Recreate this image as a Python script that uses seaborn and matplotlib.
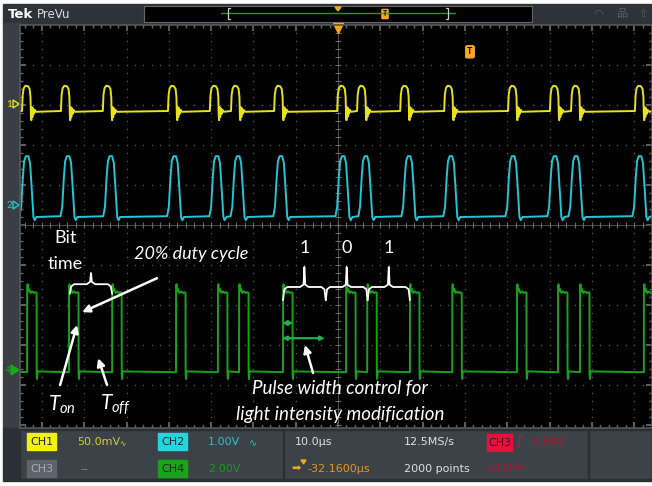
import numpy as np
import pandas as pd
import matplotlib.pyplot as plt
import seaborn as sns
from matplotlib.patches import Rectangle, Polygon, FancyBboxPatch

ch1_rise = [-74.7, -65.5, -55.6, -40.2, -30.3, -25.3, -15.1, -0.2, 4.5, 14.7,
            25.1, 40.2, 50.1, 55.1, 70.2]
ch2_peak = [-73.5, -63.8, -53.7, -38.6, -28.6, -23.6, -13.5, 1.2, 6.6, 16.8,
            26.7, 41.4, 51.3, 56.3, 71.4]
ch4_rise = [-73.5, -63.6, -53.4, -38.3, -28.4, -23.4, -13.0, 1.9, 6.9, 17.0,
            27.0, 42.3, 52.0, 57.2, 72.3]

# форма одиночного импульса каждого канала (смещение, уровень)
ch1_shape_t = [0.0, 0.15, 0.4, 0.8, 1.4, 1.8, 2.0, 2.1, 2.2, 2.3, 2.45, 2.6, 2.8, 3.0, 3.3]
ch1_shape_v = [2.85, 3.25, 3.42, 3.48, 3.47, 3.40, 3.2, 2.75, 2.62, 2.95, 2.7, 2.92, 2.78, 2.88, 2.83]
ch1_base = 2.85

ch2_shape_t = [-1.8, -1.4, -1.0, -0.7, -0.3, 0.3, 0.7, 1.1, 1.5, 1.8, 2.2]
ch2_shape_v = [0.22, 0.45, 1.2, 1.6, 1.72, 1.72, 1.55, 0.9, 0.2, 0.12, 0.2]
ch2_base = 0.22

ch4_shape_t = [0.0, 0.02, 0.12, 0.3, 0.5, 0.8, 1.2, 1.6, 2.0, 2.25, 2.27, 2.35, 2.5]
ch4_shape_v = [-3.68, -1.55, -1.48, -1.65, -1.6, -1.7, -1.66, -1.7, -1.68, -1.7, -3.72, -3.85, -3.66]
ch4_base = -3.67

# разметка битов "1 0 1" и bit time
bit_labels = ['1', '0', '1']
bit_edges = [-13.0, -2.9, 7.0, 17.0]
bit_time_edges = [-63.4, -53.4]

T0, T1 = -75.18, 74.23
Y0, Y1 = -5.075, 5.0


def build_trace(starts, shape_t, shape_v, base):
    t = [T0]
    v = [base]
    for s in starts:
        for dt, lv in zip(shape_t, shape_v):
            t.append(s + dt)
            v.append(lv)
    t.append(T1)
    v.append(base)
    return pd.DataFrame({'t': t, 'v': v})


sns.set_theme(style="dark")
plt.rcParams['font.family'] = ['Lato', 'DejaVu Sans']
plt.rcParams['mathtext.fontset'] = 'custom'
plt.rcParams['mathtext.it'] = 'Lato:italic'
plt.rcParams['mathtext.rm'] = 'Lato:italic'

fig = plt.figure(figsize=(6.52, 4.86), dpi=100, facecolor='white')

# ---- рамка интерфейса осциллографа (пиксельные координаты)
ui = fig.add_axes([0, 0, 1, 1])
ui.set_xlim(0, 652)
ui.set_ylim(486, 0)
ui.axis('off')
ui.add_patch(Rectangle((3, 4), 649, 20, color='#2e3338'))
ui.add_patch(Rectangle((3, 23), 18, 406, color='#3a3f45'))
ui.add_patch(Rectangle((3, 428), 649, 53, color='#2b3035'))
for x0, w in [(20, 263), (284, 304), (589, 63)]:
    ui.add_patch(Rectangle((x0, 430), w, 49, facecolor='#3b4248', edgecolor='#2a2f34', lw=1))

narrow = ['Liberation Sans Narrow', 'DejaVu Sans']
ui.text(8, 14, 'Tek', color='white', fontsize=9.5, fontweight='bold', va='center', family=narrow)
ui.text(37, 14, 'PreVu', color='#dddddd', fontsize=8.5, va='center', family=narrow)
ui.add_patch(Rectangle((144, 6), 388, 16, facecolor='black', edgecolor='#666666', lw=0.8))
ui.plot([221, 455], [13.5, 13.5], color='#1f9a3a', lw=1)
ui.plot([230, 228, 228, 230], [8, 8, 19, 19], color='#cccccc', lw=0.9)
ui.plot([446, 448, 448, 446], [8, 8, 19, 19], color='#cccccc', lw=0.9)
ui.add_patch(Polygon([[335, 7], [341, 7], [338, 11]], color='#f5a623'))
ui.add_patch(FancyBboxPatch((382.5, 10), 5, 8, boxstyle='round,pad=0.6', color='#f5a623'))
ui.text(385, 14, 'T', color='black', fontsize=5, ha='center', va='center', fontweight='bold')
for x, s in [(598, '◠'), (622, '品'), (643, '⇧')]:
    ui.text(x, 14, s, color='#5a6066', fontsize=8, ha='center', va='center',
            family=['DejaVu Sans', 'Noto Sans CJK SC'])

# маркеры каналов слева
ui.text(9, 104, '1', color='#e6e61e', fontsize=7, ha='center', va='center')
ui.add_patch(Polygon([[13, 100], [13, 108], [19, 104]], facecolor='none', edgecolor='#e6e61e', lw=1))
ui.text(9, 205, '2', color='#1ec8d2', fontsize=7, ha='center', va='center')
ui.add_patch(Polygon([[13, 201], [13, 209], [19, 205]], facecolor='none', edgecolor='#1ec8d2', lw=1))
ui.text(8, 370, '4', color='#1aa81a', fontsize=7, ha='center', va='center')
ui.add_patch(Polygon([[11, 365], [11, 375], [19, 370]], color='#1aa81a'))

# строка состояния
badges = [(27, 433, 'CH1', '#f2f20c'), (158, 433, 'CH2', '#22d6df'),
          (27, 460, 'CH3', '#5d646b'), (158, 460, 'CH4', '#19a319'),
          (487, 434, 'CH3', '#e6123d')]
for bx, by, lab, col in badges:
    ui.add_patch(Rectangle((bx, by), 29 if bx != 487 else 25, 17, color=col))
    ui.text(bx + (14.5 if bx != 487 else 12.5), by + 8.5, lab,
            color='#222222' if lab != 'CH3' or bx == 487 else '#aaaaaa',
            fontsize=8, ha='center', va='center', family=narrow)
row1, row2 = 442, 469
ui.text(77, row1, '50.0mV', color='#d2d21e', fontsize=8, va='center', family=narrow)
ui.text(119, row1 + 2, '∿', color='#d2d21e', fontsize=5.5, va='center', family=narrow)
ui.text(80, row2, '--', color='#8a8f94', fontsize=8, va='center', family=narrow)
ui.text(208, row1, '1.00V', color='#1ec8c8', fontsize=8, va='center', family=narrow)
ui.text(249, row1 + 1, '∿', color='#1ec8c8', fontsize=7, va='center', family=narrow)
ui.text(208, row2, '2.00V', color='#1a9a1a', fontsize=8, va='center', family=narrow)
ui.text(295, row1, '10.0µs', color='#e0e0e0', fontsize=8, va='center', family=narrow)
ui.text(404, row1, '12.5MS/s', color='#e0e0e0', fontsize=8, va='center', family=narrow)
ui.text(515, row1, '∫', color='#d81038', fontsize=9, va='center', family=narrow)
ui.text(531, row1, '6.80V', color='#b81030', fontsize=8, va='center', family=narrow)
ui.text(291, row2, '➡', color='#f5a623', fontsize=8, va='center', family=['DejaVu Sans'])
ui.add_patch(Polygon([[301, 460], [306, 460], [303.5, 464]], color='#f5a623'))
ui.text(307, row2, '-32.1600µs', color='#e8961e', fontsize=8, va='center', family=narrow)
ui.text(404, row2, '2000 points', color='#e0e0e0', fontsize=8, va='center', family=narrow)
ui.text(487, row2, '<10Hz', color='#b81030', fontsize=8, va='center', family=narrow)

# ---- экран с осциллограммами
scope = fig.add_axes([20 / 652, (486 - 428) / 486, 632 / 652, 403 / 486])
scope.set_facecolor('black')
scope.set_xlim(T0, T1)
scope.set_ylim(Y0, Y1)
scope.set_xticks(np.arange(-70, 71, 10))
scope.set_xticks(np.arange(-74, 74, 2), minor=True)
scope.set_yticks(np.arange(-5, 6, 1))
scope.set_yticks(np.arange(-5, 5.01, 0.2), minor=True)
scope.tick_params(which='both', direction='in', color='#6a6a6a', bottom=True, top=True,
                  left=True, right=True, labelbottom=False, labelleft=False)
scope.tick_params(which='major', length=4)
scope.tick_params(which='minor', length=2)
scope.grid(False)
for sp in scope.spines.values():
    sp.set_color('#555555')

# точечная сетка
gx, gy = [], []
for x in range(-70, 71, 10):
    for y in np.arange(-5, 5.01, 0.2):
        gx.append(x)
        gy.append(y)
for y in range(-5, 6):
    for x in np.arange(-74, 74, 2):
        gx.append(x)
        gy.append(y)
scope.plot(gx, gy, ls='none', marker='s', ms=0.9, mew=0, color='#5e5e5e')
scope.axvline(0, color='#4a4a4a', lw=0.8)
scope.axhline(0, color='#4a4a4a', lw=0.8)
ty = np.arange(-5, 5.01, 0.2)
scope.plot(np.zeros_like(ty), ty, ls='none', marker='_', ms=5, mew=0.8, color='#6a6a6a')
tx = np.arange(-74, 74, 2)
scope.plot(tx, np.zeros_like(tx), ls='none', marker='|', ms=5, mew=0.8, color='#6a6a6a')

sns.lineplot(data=build_trace(ch1_rise, ch1_shape_t, ch1_shape_v, ch1_base), x='t', y='v',
             estimator=None, sort=False, color='#e8e21a', lw=1.4, ax=scope)
sns.lineplot(data=build_trace(ch2_peak, ch2_shape_t, ch2_shape_v, ch2_base), x='t', y='v',
             estimator=None, sort=False, color='#22c6d4', lw=1.4, ax=scope)
sns.lineplot(data=build_trace(ch4_rise, ch4_shape_t, ch4_shape_v, ch4_base), x='t', y='v',
             estimator=None, sort=False, color='#17a317', lw=1.4, ax=scope)
scope.set_xlabel('')
scope.set_ylabel('')

# маркер триггера
scope.plot([0], [4.92], marker='v', ms=7, color='#f5a623', clip_on=False)
scope.text(31.2, 4.33, 'T', color='black', fontsize=6.5, fontweight='bold', ha='center', va='center',
           bbox=dict(boxstyle='round,pad=0.25', fc='#f5a623', ec='none'))


def brace(x0, x1, y_bar, y_end, y_tip):
    w = x1 - x0
    xm = (x0 + x1) / 2
    bx = [x0, x0 + 0.03 * w, x0 + 0.1 * w, xm - 0.1 * w, xm - 0.02 * w, xm,
          xm + 0.02 * w, xm + 0.1 * w, x1 - 0.1 * w, x1 - 0.03 * w, x1]
    by = [y_end, y_bar - 0.06, y_bar, y_bar, y_bar + 0.06, y_tip,
          y_bar + 0.06, y_bar, y_bar, y_bar - 0.06, y_end]
    scope.plot(bx, by, color='white', lw=1.3)


# аннотации
ann = dict(color='white', family=['Lato', 'DejaVu Sans'])
scope.text(-64.5, -0.33, 'Bit', fontsize=13, ha='center', va='center', **ann)
scope.text(-64.5, -0.98, 'time', fontsize=13, ha='center', va='center', **ann)
brace(bit_time_edges[0], bit_time_edges[1], -1.48, -1.72, -1.2)
scope.text(-34.8, -0.73, '20% duty cycle', fontsize=13, style='italic', ha='center', va='center', **ann)
for lab, a, b in zip(bit_labels, bit_edges[:-1], bit_edges[1:]):
    brace(a, b, -1.55, -1.88, -1.05)
    scope.text((a + b) / 2, -0.58, lab, fontsize=13, ha='center', va='center', **ann)

arrow = dict(arrowstyle='-|>', color='white', lw=1.8, mutation_scale=11, shrinkA=0, shrinkB=0)
scope.annotate('', xy=(-60.5, -2.18), xytext=(-42.8, -1.33), arrowprops=arrow)
scope.annotate('', xy=(-61.7, -2.5), xytext=(-65.7, -4.0), arrowprops=arrow)
scope.annotate('', xy=(-56.7, -3.33), xytext=(-54.6, -4.0), arrowprops=arrow)
scope.annotate('', xy=(-7.8, -3.0), xytext=(-5.9, -3.7), arrowprops=arrow)

garrow = dict(arrowstyle='<|-|>', color='#20b050', lw=1.6, mutation_scale=6, shrinkA=0, shrinkB=0)
scope.annotate('', xy=(-10.6, -2.45), xytext=(-13.2, -2.45), arrowprops=garrow)
scope.annotate('', xy=(-3.1, -2.83), xytext=(-13.2, -2.83), arrowprops=garrow)

scope.text(-65.2, -4.5, r'$T_{on}$', fontsize=15, ha='center', va='center', color='white')
scope.text(-52.7, -4.5, r'$T_{off}$', fontsize=15, ha='center', va='center', color='white')
scope.text(0.5, -4.08, 'Pulse width control for', fontsize=13.5, style='italic',
           ha='center', va='center', **ann)
scope.text(0.5, -4.73, 'light intensity modification', fontsize=13.5, style='italic',
           ha='center', va='center', clip_on=False, **ann)

fig.savefig('out.png', dpi=100, facecolor='white')
